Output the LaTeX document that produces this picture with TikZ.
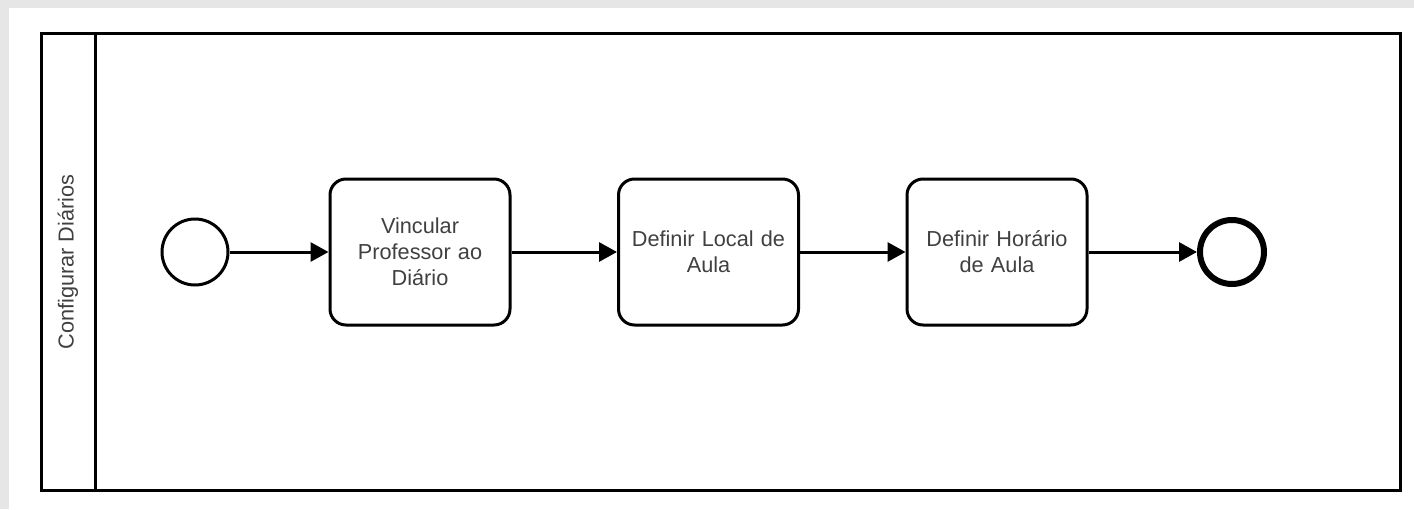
\documentclass[tikz,border=0pt]{standalone}
\usepackage{fontspec}
\setmainfont{Liberation Sans}
\usepackage{tikz}
\usetikzlibrary{arrows.meta,backgrounds}
\definecolor{txtgray}{RGB}{64,64,64}
\definecolor{shadegray}{RGB}{230,230,230}

\tikzset{
  task/.style={draw, line width=3pt, rounded corners=16pt, minimum width=180pt,
    minimum height=146pt, inner sep=0pt, align=center, text width=170pt,
    text=txtgray, font=\fontsize{21.7}{26}\selectfont},
  startev/.style={draw, circle, line width=3pt, minimum size=66pt, inner sep=0pt},
  endev/.style={draw, circle, line width=6pt, minimum size=64pt, inner sep=0pt},
  flow/.style={line width=3pt, -{Triangle[length=18pt,width=19pt]}},
  lanelabel/.style={rotate=90, text=txtgray, font=\fontsize{21.7}{26}\selectfont}
}

\begin{document}
\begin{tikzpicture}[x=1pt,y=-1pt]
\useasboundingbox (0,0) rectangle (1414,509);
% screenshot edge
\fill[shadegray] (0,0) rectangle (1414,509);
\fill[white] (9,8) rectangle (1414,509);

% pool and lane
\draw[line width=3pt] (41,33) rectangle (1400,490);
\draw[line width=3pt] (95,33) -- (95,490);
\node[lanelabel] (lane) at (68,262) {Configurar Diários};

% events and tasks
\node[startev] (start) at (195,252) {};
\node[task] (vincular) at (420,252) {Vincular\\Professor ao\\Diário};
\node[task] (local) at (708.5,252) {Definir Local de\\Aula};
\node[task] (horario) at (997,252) {Definir Horário\\de Aula};
\node[endev] (end) at (1232,252) {};

% sequence flows
\draw[flow] (start) -- (vincular);
\draw[flow] (vincular) -- (local);
\draw[flow] (local) -- (horario);
\draw[flow] (horario) -- (end);
\end{tikzpicture}
\end{document}
